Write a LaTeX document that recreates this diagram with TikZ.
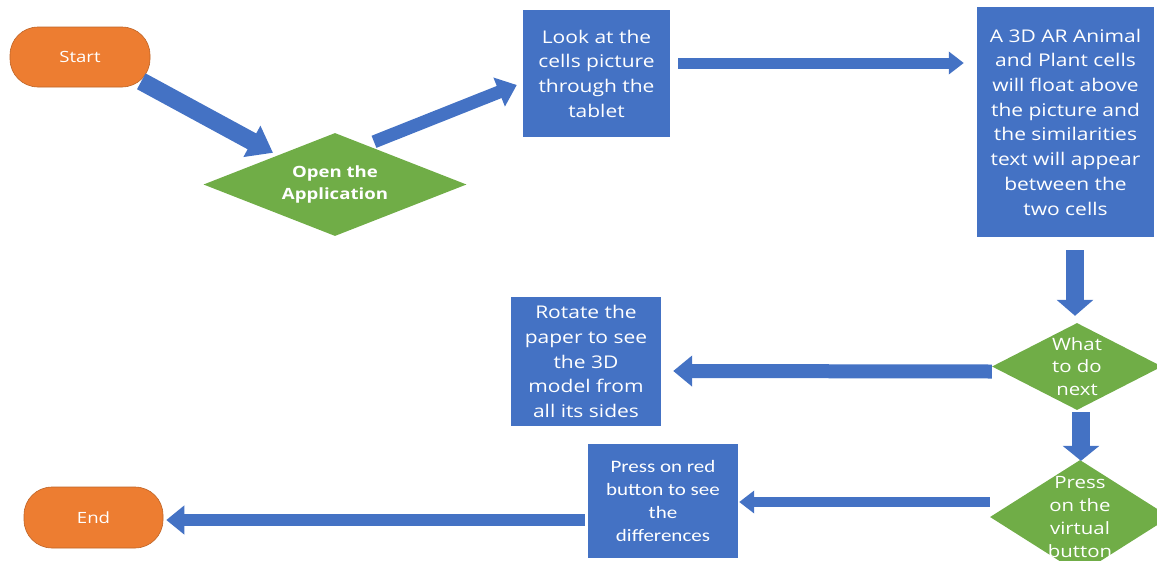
\documentclass[tikz,border=0pt]{standalone}
\usepackage{fontspec}
\setmainfont[FakeStretch=1.2]{Open Sans}
\newfontfamily\calibfont[FakeStretch=1.2]{Carlito}
\usetikzlibrary{arrows.meta,shapes.geometric}
\definecolor{myblue}{HTML}{4472C4}
\definecolor{myorange}{HTML}{ED7D31}
\definecolor{mygreen}{HTML}{70AD47}
\begin{document}
\begin{tikzpicture}[x=1pt,y=-1pt,
  boxnode/.style={rectangle, fill=myblue, text=white, align=center, inner sep=0pt, font=\fontsize{17.5}{24.7}\selectfont},
  termnode/.style={rectangle, rounded corners=28pt, fill=myorange, draw=myorange!80!black, line width=0.6pt, text=white, inner sep=0pt, font=\fontsize{15.5}{19}\selectfont},
  decnode/.style={diamond, fill=mygreen, inner sep=0pt},
  dectext/.style={text=white, align=center, inner sep=0pt, font=\fontsize{17}{22.8}\selectfont},
  barrow/.style n args={3}{draw=myblue, line width=#1, line cap=butt, -{Triangle[width=#2, length=#3]}}]
\useasboundingbox (0,0) rectangle (1157,560);
\clip (0,0) rectangle (1157,560);
% terminals
\node[termnode, minimum width=140pt, minimum height=60pt] (start) at (80,57) {Start};
\node[termnode, minimum width=139pt, minimum height=61pt] (endn) at (93.5,517.5) {End};
% decisions
\node[decnode, minimum width=263pt, minimum height=103pt] (open) at (335,184.5) {};
\node[dectext, font=\bfseries\fontsize{15.5}{22}\selectfont] (opent) at (open) {Open the\\Application};
\node[decnode, minimum width=170pt, minimum height=87pt] (what) at (1077,366.5) {};
\node[dectext] (whatt) at (what) {What\\to do\\next};
\node[decnode, minimum width=180pt, minimum height=114pt] (press) at (1080,517) {};
\node[dectext] (presst) at (press) {Press\\on the\\virtual\\button};
% process boxes
\node[boxnode, minimum width=147pt, minimum height=127pt] (look) at (596.5,73.5) {Look at the\\cells picture\\through the\\tablet};
\node[boxnode, minimum width=177pt, minimum height=230pt] (ar) at (1065.5,122) {A 3D AR Animal\\and Plant cells\\will float above\\the picture and\\the similarities\\text will appear\\between the\\two cells};
\node[boxnode, minimum width=150pt, minimum height=129pt] (rot) at (586,361.5) {Rotate the\\paper to see\\the 3D\\model from\\all its sides};
\node[boxnode, minimum width=150pt, minimum height=114pt, font=\calibfont\fontsize{17.5}{22.7}\selectfont] (red) at (663,501) {Press on red\\button to see\\the\\differences};
% connectors
\draw[barrow={18pt}{34pt}{24pt}] ([shift={(-9,-6)}]start.south east) -- ([shift={(-62,20)}]open.north);
\draw[barrow={13pt}{30pt}{19pt}] ([shift={(39,9)}]open.north) -- ([shift={(-6,11.5)}]look.west);
\draw[barrow={11pt}{22pt}{15pt}] ([shift={(8,-10.5)}]look.east) -- ([shift={(-13,-59)}]ar.west);
\draw[barrow={18pt}{36pt}{16pt}] ([shift={(9.5,13)}]ar.south) -- ([shift={(-2,-7)}]what.north);
\draw[barrow={14pt}{30pt}{19pt}] ([shift={(0,5)}]what.west) -- ([shift={(12,9.5)}]rot.east);
\draw[barrow={18pt}{36pt}{15pt}] ([shift={(4,2)}]what.south) -- ([shift={(1,1)}]press.north);
\draw[barrow={10pt}{22pt}{15pt}] ([shift={(0,-15)}]press.west) -- ([shift={(1,1)}]red.east);
\draw[barrow={12pt}{28pt}{18pt}] ([shift={(-3,19)}]red.west) -- ([shift={(3,2.5)}]endn.east);
\end{tikzpicture}
\end{document}
